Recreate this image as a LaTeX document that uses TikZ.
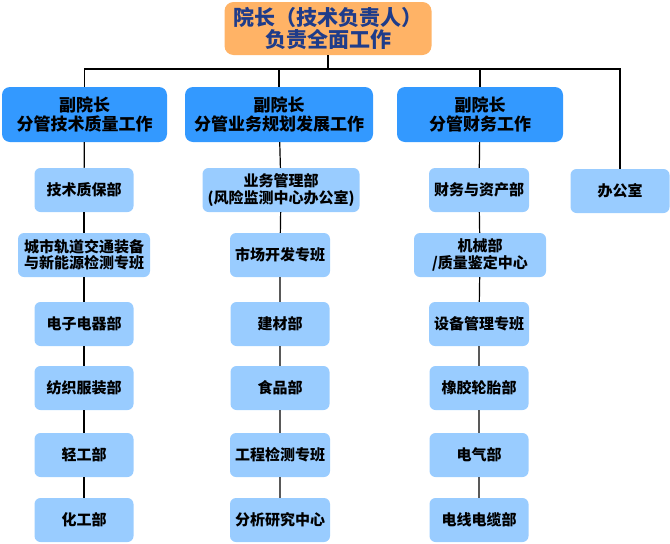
\documentclass[tikz,border=0pt]{standalone}
\usepackage{fontspec}
\setmainfont{Noto Sans CJK SC}
\definecolor{deanorange}{HTML}{FFB366}
\definecolor{deannavy}{HTML}{1F3C8A}
\definecolor{vpblue}{HTML}{3399FF}
\definecolor{deptblue}{HTML}{99CCFF}
\tikzset{
  dean/.style={fill=deanorange, rounded corners=9pt, minimum width=207pt, minimum height=53pt,
    align=center, text=deannavy, font=\bfseries\fontsize{21}{22}\selectfont},
  vp/.style={fill=vpblue, rounded corners=8pt, minimum height=55pt, align=center,
    font=\bfseries\fontsize{17}{18.5}\selectfont},
  dept/.style={fill=deptblue, rounded corners=6pt, minimum width=99pt, minimum height=44pt,
    align=center, inner xsep=5pt, font=\bfseries\fontsize{15}{16.5}\selectfont},
  link/.style={draw=black, line width=1.2pt}
}
\begin{document}
\begin{tikzpicture}[x=1pt, y=-1pt]
  \useasboundingbox (0,0) rectangle (670,544);
  \node[dean] (dean) at (328,28.5) {院长（技术负责人）\\负责全面工作};
  \coordinate (bus) at (328,69);
  \node[vp, minimum width=165pt] (vp1) at (84.5,114.5) {副院长\\分管技术质量工作};
  \node[vp, minimum width=188pt] (vp2) at (279,114.5) {副院长\\分管业务规划发展工作};
  \node[vp, minimum width=166pt] (vp3) at (480,114.5) {副院长\\分管财务工作};
  % first column
  \node[dept] (tech1) at (84,190) {技术质保部};
  \node[dept, minimum width=132pt] (tech2) at (84,255) {城市轨道交通装备\\与新能源检测专班};
  \node[dept] (tech3) at (84,324) {电子电器部};
  \node[dept] (tech4) at (84,388) {纺织服装部};
  \node[dept] (tech5) at (84,455) {轻工部};
  \node[dept] (tech6) at (84,520) {化工部};
  % second column
  \node[dept, minimum width=150pt] (biz1) at (281,190) {业务管理部\\(风险监测中心办公室)};
  \node[dept] (biz2) at (280,255) {市场开发专班};
  \node[dept] (biz3) at (280,324) {建材部};
  \node[dept] (biz4) at (280,388) {食品部};
  \node[dept] (biz5) at (280,455) {工程检测专班};
  \node[dept] (biz6) at (280,520) {分析研究中心};
  % third column
  \node[dept] (fin1) at (479,190) {财务与资产部};
  \node[dept, minimum width=132pt] (fin2) at (480,255) {机械部\\/质量鉴定中心};
  \node[dept] (fin3) at (479,324) {设备管理专班};
  \node[dept] (fin4) at (479,388) {橡胶轮胎部};
  \node[dept] (fin5) at (479,455) {电气部};
  \node[dept] (fin6) at (479,520) {电线电缆部};
  % office
  \node[dept] (office) at (620,191) {办公室};
  \draw[link] (dean) -- (bus);
  \draw[link] (bus) -| (vp1);
  \draw[link] (bus) -| (vp2);
  \draw[link] (bus) -| (vp3);
  \draw[link] (bus) -| (office);
  \foreach \col in {tech,biz,fin}{
    \draw[link] (\col1) -- (\col2) -- (\col3) -- (\col4) -- (\col5) -- (\col6);
  }
  \draw[link] (vp1) -- (tech1);
  \draw[link] (vp2) -- (biz1);
  \draw[link] (vp3) -- (fin1);
\end{tikzpicture}
\end{document}
